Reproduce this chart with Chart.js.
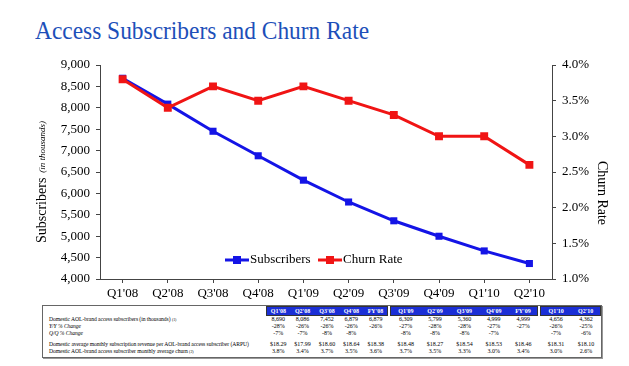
<!DOCTYPE html>
<html>
<head>
<meta charset="utf-8">
<script src="https://cdn.jsdelivr.net/npm/chart.js@4.4.1/dist/chart.umd.min.js"></script>
<style>
  body { margin: 0; background: #fff; width: 629px; height: 366px; overflow: hidden; position: relative; font-family: "Liberation Serif", serif; }
  #title { position: absolute; left: 35px; top: 16px; font-size: 26px; color: #1d4fb9; white-space: nowrap; transform-origin: left top; transform: scaleX(0.9); }
  #wrap { position: absolute; left: 0; top: 0; width: 629px; height: 305px; }
  #tbl { position: absolute; left: 42px; top: 305px; width: 558px; border: 1px solid #666; box-shadow: 1px 1px 0 #999; background: #fff; }
  #tbl table { border-collapse: collapse; table-layout: fixed; width: 100%; font-size: 6px; line-height: 7px; }
  #tbl td { padding: 0; text-align: center; white-space: nowrap; overflow: hidden; }
  #tbl td.lbl { text-align: left; padding-left: 6px; font-size: 5.6px; letter-spacing: -0.05px; }
  #tbl td.hd { background: #1b2fd6; color: #fff; font-weight: bold; border-top: 1px solid #333; border-bottom: 1px solid #333; height: 8px; }
  #tbl td.hd.gl { border-left: 1px solid #333; }
  #tbl td.hd.gr { border-right: 1px solid #333; }
  #tbl tr.sep td { height: 4px; }
  #tbl tr.last td { padding-bottom: 2px; }
  #tbl i { font-style: italic; }
  sup { font-size: 4px; vertical-align: top; }
</style>
</head>
<body>
<div id="title">Access Subscribers and Churn Rate</div>
<div id="wrap"><canvas id="chChurn"></canvas></div>
<div id="tbl"></div>
<script>
// ============ 数据 ============
const quarters = ["Q1'08", "Q2'08", "Q3'08", "Q4'08", "Q1'09", "Q2'09", "Q3'09", "Q4'09", "Q1'10", "Q2'10"];
const subscribers = [8690, 8086, 7452, 6879, 6309, 5799, 5360, 4999, 4656, 4362];
const churnRate = [3.8, 3.4, 3.7, 3.5, 3.7, 3.5, 3.3, 3.0, 3.0, 2.6];
const subTicks = [4000, 4500, 5000, 5500, 6000, 6500, 7000, 7500, 8000, 8500, 9000];
const churnTicks = [1.0, 1.5, 2.0, 2.5, 3.0, 3.5, 4.0];

// table data (grouped: 2008, 2009, 2010)
const tblHeads = [["Q1'08", "Q2'08", "Q3'08", "Q4'08", "FY'08"], ["Q1'09", "Q2'09", "Q3'09", "Q4'09", "FY'09"], ["Q1'10", "Q2'10"]];
const tblSubs = ['8,690', '8,086', '7,452', '6,879', '6,879', '6,309', '5,799', '5,360', '4,999', '4,999', '4,656', '4,362'];
const tblYoY = ['-28%', '-26%', '-26%', '-26%', '-26%', '-27%', '-28%', '-28%', '-27%', '-27%', '-26%', '-25%'];
const tblQoQ = ['-7%', '-7%', '-8%', '-8%', '', '-8%', '-8%', '-8%', '-7%', '', '-7%', '-6%'];
const tblArpu = ['$18.29', '$17.99', '$18.60', '$18.64', '$18.38', '$18.48', '$18.27', '$18.54', '$18.53', '$18.46', '$18.31', '$18.10'];
const tblChurn = ['3.8%', '3.4%', '3.7%', '3.5%', '3.6%', '3.7%', '3.5%', '3.3%', '3.0%', '3.4%', '3.0%', '2.6%'];

const BLUE = '#1414e6';
const RED = '#f01414';

// ============ 表格 ============
function buildTable() {
  const colW = [223, 24.4, 24.4, 24.4, 24.4, 24.4, 3, 29.4, 29.4, 29.4, 29.4, 29.4, 3, 30, 30];
  let html = '<table><colgroup>' + colW.map(w => `<col style="width:${w}px">`).join('') + '</colgroup>';
  // header
  html += '<tr><td></td>';
  tblHeads.forEach((g, gi) => {
    g.forEach((h, i) => {
      const cls = 'hd' + (i === 0 ? ' gl' : '') + (i === g.length - 1 ? ' gr' : '');
      html += `<td class="${cls}">${h}</td>`;
    });
    if (gi < tblHeads.length - 1) html += '<td></td>';
  });
  html += '</tr>';
  const row = (label, vals, cls) => {
    let r = `<tr${cls ? ` class="${cls}"` : ''}><td class="lbl">${label}</td>`;
    let k = 0;
    tblHeads.forEach((g, gi) => {
      g.forEach(() => { r += `<td>${vals[k++]}</td>`; });
      if (gi < tblHeads.length - 1) r += '<td></td>';
    });
    return r + '</tr>';
  };
  html += row('Domestic AOL-brand access subscribers (in thousands) <sup>(1)</sup>', tblSubs);
  html += row('<i>Y/Y % Change</i>', tblYoY);
  html += row('<i>Q/Q % Change</i>', tblQoQ);
  html += '<tr class="sep"><td colspan="15"></td></tr>';
  html += row('Domestic average monthly subscription revenue per AOL-brand access subscriber (ARPU)', tblArpu);
  html += row('Domestic AOL-brand access subscriber monthly average churn <sup>(2)</sup>', tblChurn, 'last');
  html += '</table>';
  document.getElementById('tbl').innerHTML = html;
}
buildTable();

// 图例图标：线 + 方块
function legendIcon(color) {
  const c = document.createElement('canvas');
  c.width = 24; c.height = 10;
  const g = c.getContext('2d');
  g.strokeStyle = color; g.lineWidth = 3;
  g.beginPath(); g.moveTo(0, 5); g.lineTo(24, 5); g.stroke();
  g.fillStyle = color; g.fillRect(8, 1, 8, 8);
  return c;
}

// 轴标题 + 图例（自绘）
const extrasPlugin = {
  id: 'extras',
  afterDraw(chart) {
    const { ctx, chartArea } = chart;
    ctx.save();
    // 左轴标题
    ctx.translate(chartArea.left - 58, chartArea.bottom - 36);
    ctx.rotate(-Math.PI / 2);
    ctx.fillStyle = '#000';
    ctx.textBaseline = 'middle';
    ctx.textAlign = 'left';
    ctx.font = '14px "Liberation Serif", serif';
    ctx.fillText('Subscribers', 0, 0);
    const w = ctx.measureText('Subscribers').width;
    ctx.font = 'italic 9px "Liberation Serif", serif';
    ctx.fillText('(in thousands)', w + 5, 1);
    ctx.restore();

    // 右轴标题
    ctx.save();
    ctx.translate(chartArea.right + 50, (chartArea.top + chartArea.bottom) / 2 + 21);
    ctx.rotate(Math.PI / 2);
    ctx.fillStyle = '#000';
    ctx.textBaseline = 'middle';
    ctx.textAlign = 'center';
    ctx.font = '14px "Liberation Serif", serif';
    ctx.fillText('Churn Rate', 0, 0);
    ctx.restore();

    // 图例
    ctx.save();
    const ly = chartArea.bottom - 19;
    const items = [
      { label: 'Subscribers', color: BLUE, x: chartArea.left + 125 },
      { label: 'Churn Rate', color: RED, x: chartArea.left + 218 },
    ];
    ctx.font = '13px "Liberation Serif", serif';
    ctx.textBaseline = 'middle';
    ctx.fillStyle = '#000';
    items.forEach(it => {
      ctx.drawImage(legendIcon(it.color), it.x, ly - 5);
      ctx.fillText(it.label, it.x + 25, ly);
    });
    ctx.restore();
  }
};

const axisCol = '#444';
new Chart(document.getElementById('chChurn'), {
  type: 'line',
  data: {
    labels: quarters,
    datasets: [
      { label: 'Subscribers', data: subscribers, yAxisID: 'y', order: 1, borderColor: BLUE, backgroundColor: BLUE, borderWidth: 3, pointStyle: 'rect', pointRadius: 5, pointBorderWidth: 0, tension: 0 },
      { label: 'Churn Rate', data: churnRate, yAxisID: 'y2', order: 0, borderColor: RED, backgroundColor: RED, borderWidth: 3, pointStyle: 'rect', pointRadius: 5.6, pointBorderWidth: 0, tension: 0 },
    ]
  },
  plugins: [extrasPlugin],
  options: {
    responsive: true, maintainAspectRatio: false, animation: false,
    layout: { padding: { top: 65, left: 0, right: 0, bottom: 0 } },
    plugins: { legend: { display: false }, tooltip: { enabled: false } },
    scales: {
      x: {
        offset: true,
        grid: { drawOnChartArea: false, color: axisCol, tickLength: 4, tickColor: axisCol },
        border: { color: axisCol, width: 1 },
        ticks: { color: '#000', font: { family: '"Liberation Serif", serif', size: 13 }, padding: 3, maxRotation: 0 },
        afterFit: s => { s.height = 26; }
      },
      y: {
        position: 'left', min: 4000, max: 9000,
        afterBuildTicks: s => { s.ticks = subTicks.map(v => ({ value: v })); },
        grid: { drawOnChartArea: false, tickLength: 4, tickColor: axisCol },
        border: { color: axisCol, width: 1 },
        ticks: { color: '#000', font: { family: '"Liberation Serif", serif', size: 13 }, padding: 6, callback: v => v.toLocaleString('en-US') },
        afterFit: s => { s.width = 100; }
      },
      y2: {
        position: 'right', min: 1, max: 4,
        afterBuildTicks: s => { s.ticks = churnTicks.map(v => ({ value: v })); },
        grid: { drawOnChartArea: false, tickLength: 4, tickColor: axisCol },
        border: { color: axisCol, width: 1 },
        ticks: { color: '#000', font: { family: '"Liberation Serif", serif', size: 13 }, padding: 6, callback: v => v.toFixed(1) + '%' },
        afterFit: s => { s.width = 77; }
      }
    }
  }
});
</script>
</body>
</html>
